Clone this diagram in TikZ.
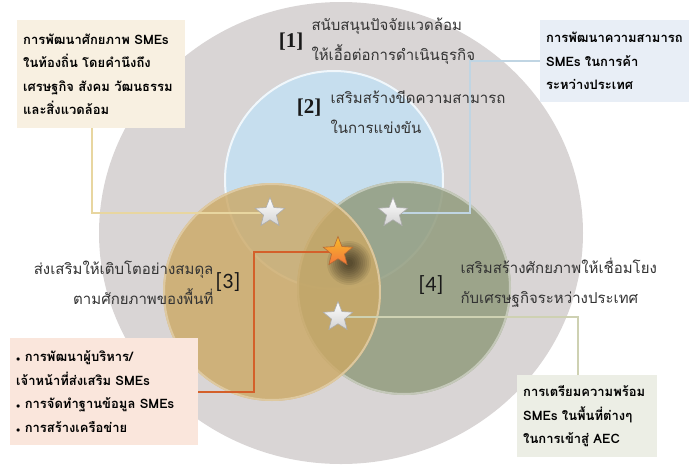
\documentclass[tikz,border=0pt]{standalone}
\usepackage{fontspec}
\newfontfamily\thaifont[Script=Thai]{Loma}
\newfontfamily\bracketserif{Liberation Serif}
\newfontfamily\bracketsans{Carlito}
\usetikzlibrary{shapes.geometric}

\definecolor{ringgray}{RGB}{217,213,213}
\definecolor{skyfill}{RGB}{198,222,238}
\definecolor{goldfill}{RGB}{204,168,100}
\definecolor{sagefill}{RGB}{146,156,126}
\definecolor{creambox}{RGB}{248,240,225}
\definecolor{bluebox}{RGB}{232,238,246}
\definecolor{peachbox}{RGB}{250,230,220}
\definecolor{sagebox}{RGB}{236,238,229}
\definecolor{tanline}{RGB}{232,214,160}
\definecolor{blueline}{RGB}{192,213,227}
\definecolor{rustline}{RGB}{212,96,42}
\definecolor{oliveline}{RGB}{206,209,178}
\definecolor{starorange}{RGB}{242,140,70}

\tikzset{
  infobox/.style={inner sep=6pt, align=left, anchor=north west,
    font=\thaifont\bfseries\fontsize{13}{23.5}\selectfont, text=black},
  ringtext/.style={font=\thaifont\fontsize{15}{30}\selectfont, text=black!80},
  numserif/.style={font=\bracketserif\bfseries\fontsize{21}{21}\selectfont, text=black!90, inner sep=0pt},
  numsans/.style={font=\bracketsans\fontsize{22}{22}\selectfont, text=black!90, inner sep=0pt},
  whitestar/.style={star, star points=5, star point ratio=2.3, minimum size=31pt,
    inner sep=0pt, draw=gray!65, line width=0.6pt, top color=white, bottom color=gray!35},
  orangestar/.style={whitestar, draw=starorange!75!black,
    top color=starorange!60!yellow, bottom color=starorange!85!red},
  leader/.style={line width=2.2pt}
}

\begin{document}
\begin{tikzpicture}[x=1pt,y=-1pt]
  \useasboundingbox (0,0) rectangle (689,464);
  % outer ring and the three circles
  \fill[ringgray] (341,233) ellipse (242 and 231);
  \fill[skyfill] (334,180) circle (110);
  \draw[white!75!skyfill,line width=2pt] (334,180) circle (109);
  \fill[sagefill,opacity=0.85] (404,288) circle (107);
  \draw[white!55!sagefill,line width=2pt,opacity=0.8] (404,288) circle (106);
  \fill[goldfill,opacity=0.8] (272,292) circle (109);
  \draw[white!45!goldfill,line width=2pt,opacity=0.8] (272,292) circle (108);

  % boxes
  \node[infobox, fill=creambox, minimum width=168pt, minimum height=108pt, text width=156pt]
    (creamnote) at (17,20) {การพัฒนาศักยภาพ SMEs\\ในท้องถิ่น โดยคำนึงถึง\\เศรษฐกิจ สังคม วัฒนธรรม\\และสิ่งแวดล้อม};
  \node[infobox, fill=bluebox, minimum width=149pt, minimum height=82pt, text width=137pt]
    (bluenote) at (540,20) {การพัฒนาความสามารถ\\SMEs ในการค้า\\ระหว่างประเทศ};
  \node[infobox, fill=peachbox, minimum width=188pt, minimum height=107pt, text width=176pt]
    (peachnote) at (10,338) {{\footnotesize$\bullet$} การพัฒนาผู้บริหาร/\\เจ้าหน้าที่ส่งเสริม SMEs\\{\footnotesize$\bullet$} การจัดทำฐานข้อมูล SMEs\\{\footnotesize$\bullet$} การสร้างเครือข่าย};
  \node[infobox, fill=sagebox, minimum width=140pt, minimum height=82pt, text width=128pt]
    (sagenote) at (517,375) {การเตรียมความพร้อม\\SMEs ในพื้นที่ต่างๆ\\ในการเข้าสู่ AEC};

  % star positions and leader bends
  \coordinate (starApos) at (270,213);
  \coordinate (starBpos) at (393,213);
  \coordinate (starCpos) at (338,252);
  \coordinate (starDpos) at (338,317);
  \coordinate (tanbend) at (92,213);
  \coordinate (bluebend) at (470,213);
  \coordinate (rustbend) at (254,252);
  \coordinate (olivebend) at (578,317);

  % leaders
  \draw[leader,tanline] (creamnote.south -| tanbend) -- (tanbend) -- (starApos);
  \draw[leader,blueline] (bluenote.west) -- (bluenote.west -| bluebend) -- (bluebend) -- (starBpos);
  \draw[leader,rustline] (peachnote.east) -- (peachnote.east -| rustbend) -- (rustbend) -- (starCpos);
  \draw[leader,oliveline] (sagenote.north -| olivebend) -- (olivebend) -- (starDpos);

  % soft shadow of the orange star
  \foreach \r in {22,20,...,4}
    \fill[black,opacity=0.07] (349,263) circle (\r);
  \node[whitestar] (starA) at (starApos) {};
  \node[whitestar] (starB) at (starBpos) {};
  \node[orangestar] (starC) at (starCpos) {};
  \node[whitestar] (starD) at (starDpos) {};

  % ring labels
  \node[numserif] (numone) at (291,42) {[1]};
  \node[ringtext, anchor=west, align=left] (ringone) at (308,41) {สนับสนุนปัจจัยแวดล้อม\\ให้เอื้อต่อการดำเนินธุรกิจ};
  \node[numserif] (numtwo) at (309,108) {[2]};
  \node[ringtext, anchor=west, align=left] (ringtwo) at (327,112) {เสริมสร้างขีดความสามารถ\\ในการแข่งขัน};
  \node[numsans] (numthree) at (228,282) {[3]};
  \node[ringtext, anchor=east, align=right] (ringthree) at (217,283) {ส่งเสริมให้เติบโตอย่างสมดุล\\ตามศักยภาพของพื้นที่};
  \node[numsans] (numfour) at (431,285) {[4]};
  \node[ringtext, anchor=west, align=left] (ringfour) at (457,283) {เสริมสร้างศักยภาพให้เชื่อมโยง\\กับเศรษฐกิจระหว่างประเทศ};
\end{tikzpicture}
\end{document}
